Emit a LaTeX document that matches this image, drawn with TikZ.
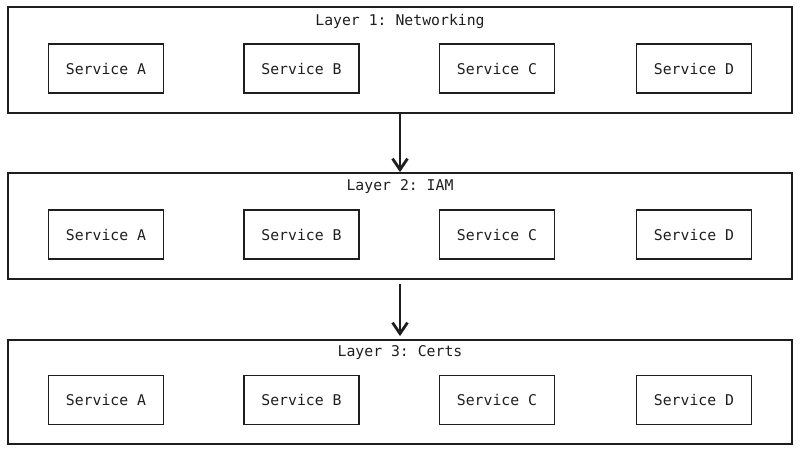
\documentclass[tikz,border=0pt]{standalone}
\usepackage{fontspec}
\setmonofont{DejaVu Sans Mono}
\usepackage{xcolor}
\usepackage{tikz}
\usetikzlibrary{arrows.meta,positioning}
\definecolor{ink}{HTML}{1E1E1E}

\begin{document}
\begin{tikzpicture}[x=1pt,y=-1pt,
      every node/.style={font=\ttfamily\fontsize{14.8}{17}\selectfont,text=ink},
      layer/.style={draw=ink,line width=1.8pt,minimum width=784pt,inner sep=0pt},
      svc/.style={draw=ink,line width=1.8pt,minimum width=115pt,minimum height=49pt,inner sep=0pt},
      flow/.style={draw=ink,line width=2.8pt,-{Straight Barb[length=11pt,width=15pt,line width=2.8pt]}}]
      \useasboundingbox (0,0) rectangle (800,453);
      % layers
      \node[layer,minimum height=106pt] (net) at (400,60) {};
      \node[layer,minimum height=106pt] (iam) at (400,226) {};
      \node[layer,minimum height=104pt] (certs) at (400,392) {};
      \node (nettitle) at (400,21) {Layer 1: Networking};
      \node (iamtitle) at (400,187) {Layer 2: IAM};
      \node (certstitle) at (400,353) {Layer 3: Certs};
      % services of layer 1
      \node[svc] (neta) at (106,68.5) {Service A};
      \node[svc] (netb) at (301.5,68.5) {Service B};
      \node[svc] (netc) at (497,68.5) {Service C};
      \node[svc] (netd) at (694,68.5) {Service D};
      % services of layer 2
      \node[svc] (iama) at (106,234.5) {Service A};
      \node[svc] (iamb) at (301.5,234.5) {Service B};
      \node[svc] (iamc) at (497,234.5) {Service C};
      \node[svc] (iamd) at (694,234.5) {Service D};
      % services of layer 3
      \node[svc] (certsa) at (106,400) {Service A};
      \node[svc] (certsb) at (301.5,400) {Service B};
      \node[svc] (certsc) at (497,400) {Service C};
      \node[svc] (certsd) at (694,400) {Service D};
      \draw[flow] (net) -- (iam);
      \draw[flow,shorten <=4pt,shorten >=3pt] (iam) -- (certs);
    \end{tikzpicture}
\end{document}
